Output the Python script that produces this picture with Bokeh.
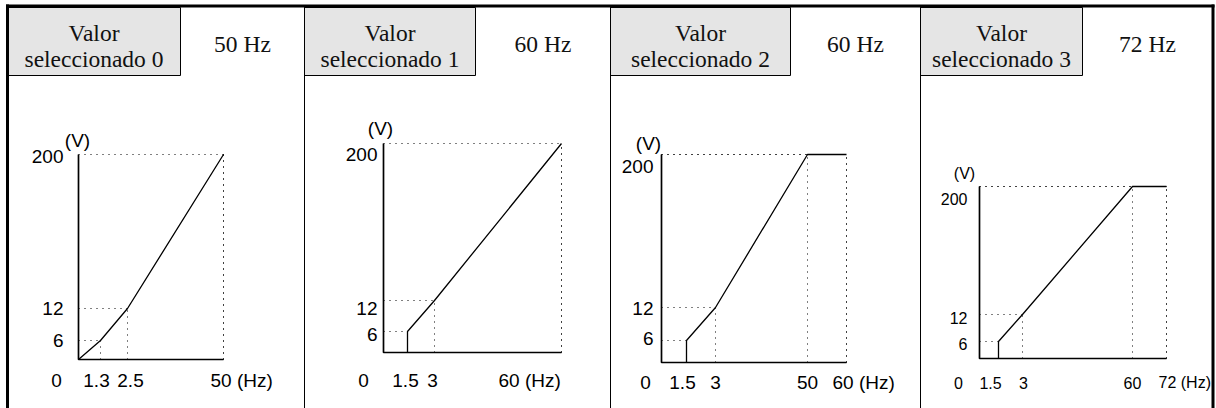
import numpy as np
from bokeh.plotting import figure
from bokeh.models import Range1d
from bokeh.core.properties import value
from bokeh.embed import file_html
from bokeh.resources import INLINE

# ---- data: V/f patterns for the four selectable settings ----
setting_names = ["seleccionado 0", "seleccionado 1", "seleccionado 2", "seleccionado 3"]
base_freqs = ["50 Hz", "60 Hz", "60 Hz", "72 Hz"]

freq_0 = [0, 1.3, 2.5, 50]
volt_0 = [0, 6, 12, 200]
freq_1 = [1.5, 1.5, 3, 60]
volt_1 = [0, 6, 12, 200]
freq_2 = [1.5, 1.5, 3, 50, 60]
volt_2 = [0, 6, 12, 200, 200]
freq_3 = [1.5, 1.5, 3, 60, 72]
volt_3 = [0, 6, 12, 200, 200]

freq_ticks_0 = [0, 1.3, 2.5, 50]
freq_ticks_1 = [0, 1.5, 3, 60]
freq_ticks_2 = [0, 1.5, 3, 50, 60]
freq_ticks_3 = [0, 1.5, 3, 60, 72]
volt_ticks = [0, 6, 12, 200]

curves = [(freq_0, volt_0), (freq_1, volt_1), (freq_2, volt_2), (freq_3, volt_3)]
freq_ticks = [freq_ticks_0, freq_ticks_1, freq_ticks_2, freq_ticks_3]

# ---- layout: panel frames and schematic (non-linear) axis stops in page pixels ----
panel_edges = [7, 304, 610, 920, 1212]
box_right = [180, 475, 790, 1082]
x_stops = [
    [78, 100, 127, 223],
    [383, 407, 434, 561],
    [661, 686, 715, 807, 846],
    [979, 998, 1022, 1132, 1166],
]
y_stops = [
    [359, 340, 308, 154],
    [352, 331, 300, 143],
    [362, 340, 307, 154],
    [358, 341, 314, 186],
]
tick_font = ["19px", "19px", "19px", "16px"]
ylab_right = [63, 377, 653, 967]
ylab_dy = [[0, 0, 2], [3, 8, 11], [-2, 1, 12], [2, 3, 12]]   # for 6, 12, 200
zero_dx = [-22, -20, -16, -21]
mid_dx = [[-4, 3], [-2, -2], [-4, 0, 0], [-8, 1, 0]]
xlab_y = [380, 380, 382, 382]
last_dx = [-13, -63, -14, -8]
vlab_off = [(-1, -14), (-3, -15), (-13, -11), (-15, -13)]

SERIF = value("Liberation Serif")
SANS = value("Liberation Sans")

p = figure(width=1216, height=408, x_range=Range1d(0, 1216), y_range=Range1d(408, 0),
           output_backend="svg", toolbar_location=None, min_border=0)
p.axis.visible = False
p.grid.visible = False
p.outline_line_color = None
p.background_fill_color = "white"
p.border_fill_color = "white"

# header boxes (grey) and frame
for i in range(4):
    p.quad(left=panel_edges[i], right=box_right[i], top=7, bottom=75,
           fill_color="#e5e5e5", line_color="black", line_width=1)
for xe in panel_edges[1:-1]:
    p.segment(x0=xe, y0=5, x1=xe, y1=408, line_color="black", line_width=1)
p.segment(x0=5.5, y0=5.5, x1=1214, y1=5.5, line_color="black", line_width=3)
p.segment(x0=7, y0=4, x1=7, y1=408, line_color="black", line_width=3)
p.segment(x0=1212.5, y0=4, x1=1212.5, y1=408, line_color="black", line_width=3)

for i in range(4):
    cx_box = (panel_edges[i] + box_right[i]) / 2
    cx_cell = (box_right[i] + panel_edges[i + 1]) / 2
    p.text(x=[cx_box, cx_box], y=[32, 58], text=["Valor", setting_names[i]],
           text_font=SERIF, text_font_size="23.5px", text_align="center",
           text_baseline="alphabetic", text_color="#111111")
    p.text(x=[cx_cell], y=[43], text=[base_freqs[i]],
           text_font=SERIF, text_font_size="23.5px", text_align="center",
           text_baseline="alphabetic", text_color="#111111")

for i in range(4):
    ft = freq_ticks[i]
    fx = lambda f, i=i: np.interp(f, freq_ticks[i], x_stops[i])
    vy = lambda v, i=i: np.interp(v, volt_ticks, y_stops[i])
    f, v = curves[i]
    fmax = ft[-1]
    vmax = volt_ticks[-1]

    # dotted reference lines to each breakpoint
    hx0, hy0, hx1, hy1 = [], [], [], []
    for fi, vi in zip(f, v):
        if fi > 0 and vi > 0:
            hx0 += [fx(0), fx(fi)]
            hy0 += [vy(vi), vy(0)]
            hx1 += [fx(fi), fx(fi)]
            hy1 += [vy(vi), vy(vi)]
    hx0.append(fx(fmax)); hy0.append(vy(0)); hx1.append(fx(fmax)); hy1.append(vy(vmax))
    p.segment(x0=hx0, y0=hy0, x1=hx1, y1=hy1, line_color="black",
              line_width=1, line_dash="1 5")

    # axes
    p.line(x=[fx(0), fx(0), fx(fmax)], y=[vy(vmax), vy(0), vy(0)],
           line_color="black", line_width=1.7)
    # V/f curve
    p.line(x=fx(np.array(f)), y=vy(np.array(v)), line_color="black", line_width=1.3)

    # voltage tick labels
    p.text(x=[ylab_right[i]] * 3, y=[vy(t) + d for t, d in zip(volt_ticks[1:], ylab_dy[i])],
           text=[f"{t:g}" for t in volt_ticks[1:]], text_font=SANS,
           text_font_size=tick_font[i], text_align="right", text_baseline="middle",
           text_color="black")
    dx, dy = vlab_off[i]
    p.text(x=[fx(0) + dx], y=[vy(vmax) + dy], text=["(V)"], text_font=SANS,
           text_font_size=tick_font[i], text_align="center", text_baseline="middle",
           text_color="black")

    # frequency tick labels
    p.text(x=[fx(0) + zero_dx[i]], y=[xlab_y[i]], text=["0"], text_font=SANS,
           text_font_size=tick_font[i], text_align="center", text_baseline="middle",
           text_color="black")
    mids = ft[1:-1]
    p.text(x=[fx(t) + d for t, d in zip(mids, mid_dx[i])], y=[xlab_y[i]] * len(mids),
           text=[f"{t:g}" for t in mids], text_font=SANS, text_font_size=tick_font[i],
           text_align="center", text_baseline="middle", text_color="black")
    p.text(x=[fx(fmax) + last_dx[i]], y=[xlab_y[i]], text=[f"{fmax:g} (Hz)"],
           text_font=SANS, text_font_size=tick_font[i], text_align="left",
           text_baseline="middle", text_color="black")

open("out.html", "w").write(file_html(p, INLINE))
